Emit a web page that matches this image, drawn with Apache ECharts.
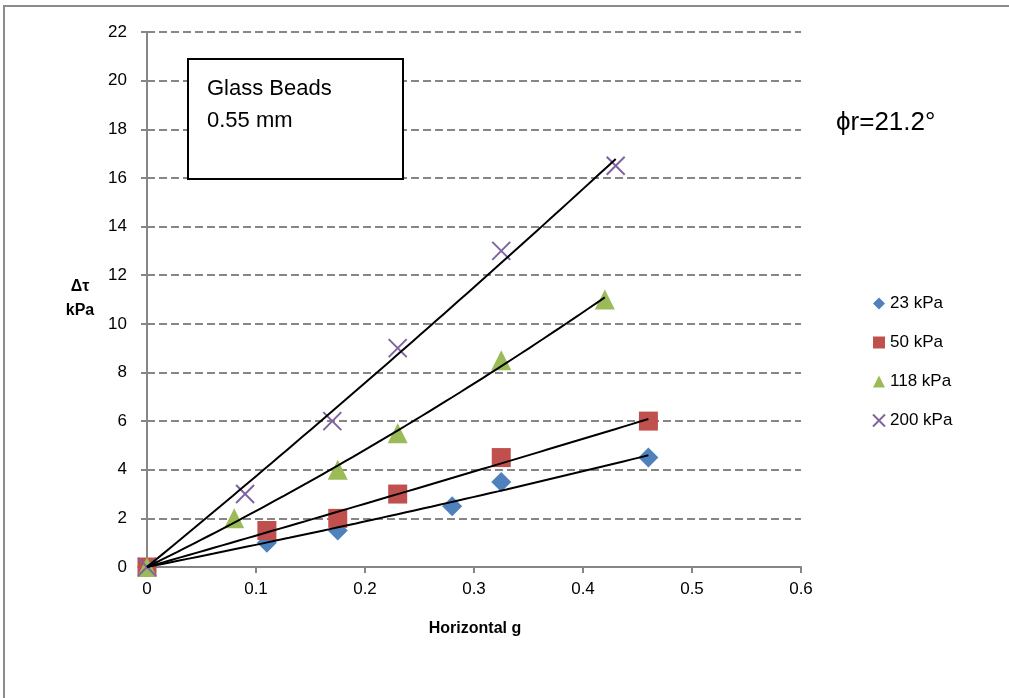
<!DOCTYPE html>
<html>
<head>
<meta charset="utf-8">
<script src="https://cdn.jsdelivr.net/npm/echarts@6/dist/echarts.min.js"></script>
<style>
  html, body { margin: 0; padding: 0; background: #ffffff; }
  #chart { width: 1009px; height: 698px; }
</style>
</head>
<body>
<div id="chart"></div>
<script>
// Shear stress increase vs. horizontal acceleration, glass beads 0.55 mm
const seriesNames = ['23 kPa', '50 kPa', '118 kPa', '200 kPa'];

const gX23 = [0, 0.11, 0.175, 0.28, 0.325, 0.46];
const tau23 = [0, 1.0, 1.5, 2.5, 3.5, 4.5];

const gX50 = [0, 0.11, 0.175, 0.23, 0.325, 0.46];
const tau50 = [0, 1.5, 2.0, 3.0, 4.5, 6.0];

const gX118 = [0, 0.08, 0.175, 0.23, 0.325, 0.42];
const tau118 = [0, 2.0, 4.0, 5.5, 8.5, 11.0];

const gX200 = [0, 0.09, 0.17, 0.23, 0.325, 0.43];
const tau200 = [0, 3.0, 6.0, 9.0, 13.0, 16.5];

const xTicks = [0, 0.1, 0.2, 0.3, 0.4, 0.5, 0.6];
const yTicks = [0, 2, 4, 6, 8, 10, 12, 14, 16, 18, 20, 22];

const colors = ['#4F81BD', '#C0504D', '#9BBB59', '#8064A2'];
const FONT = '"Liberation Sans", Arial, sans-serif';

const groups = [[gX23, tau23], [gX50, tau50], [gX118, tau118], [gX200, tau200]];

// Second-order polynomial trendline forced through the origin: y = a*x + b*x^2
function quadFitOrigin(xs, ys) {
  let s2 = 0, s3 = 0, s4 = 0, sxy = 0, sx2y = 0;
  for (let i = 0; i < xs.length; i++) {
    const x = xs[i], y = ys[i];
    s2 += x * x; s3 += x * x * x; s4 += x * x * x * x;
    sxy += x * y; sx2y += x * x * y;
  }
  const det = s2 * s4 - s3 * s3;
  const a = (sxy * s4 - s3 * sx2y) / det;
  const b = (s2 * sx2y - s3 * sxy) / det;
  return [a, b];
}

function trendPoints(xs, ys) {
  const [a, b] = quadFitOrigin(xs, ys);
  const xMin = Math.min(...xs), xMax = Math.max(...xs);
  const pts = [];
  const n = 60;
  for (let i = 0; i <= n; i++) {
    const x = xMin + (xMax - xMin) * i / n;
    pts.push([x, a * x + b * x * x]);
  }
  return pts;
}

const crossPath = 'path://M0,0L10,10M10,0L0,10';
const symbols = ['diamond', 'rect', 'triangle', crossPath];
const sizes = [20, 19, 20, 18];

const scatterSeries = groups.map((g, i) => ({
  name: seriesNames[i],
  type: 'scatter',
  data: g[0].map((x, k) => [x, g[1][k]]),
  symbol: symbols[i],
  symbolSize: sizes[i],
  itemStyle: i === 3
    ? { color: 'rgba(0,0,0,0)', borderColor: colors[i], borderWidth: 2, opacity: 1 }
    : { color: colors[i], opacity: 1 },
  emphasis: { disabled: true },
  z: 2
}));

const trendSeries = groups.map((g, i) => ({
  name: 'trend' + i,
  type: 'line',
  data: trendPoints(g[0], g[1]),
  showSymbol: false,
  symbol: 'none',
  lineStyle: { color: '#000000', width: 2 },
  silent: true,
  z: 3
}));

const chart = echarts.init(document.getElementById('chart'));
chart.setOption({
  animation: false,
  backgroundColor: '#ffffff',
  grid: { left: 147, top: 32, width: 654, height: 535 },
  xAxis: {
    type: 'value',
    min: xTicks[0],
    max: xTicks[xTicks.length - 1],
    interval: 0.1,
    axisLine: { lineStyle: { color: '#868686', width: 2 } },
    axisTick: { show: true, inside: false, length: 6, lineStyle: { color: '#868686', width: 2 } },
    axisLabel: {
      margin: 14,
      color: '#000000',
      fontFamily: FONT,
      fontSize: 17,
      formatter: v => String(Math.round(v * 10) / 10)
    },
    splitLine: { show: false }
  },
  yAxis: {
    type: 'value',
    min: yTicks[0],
    max: yTicks[yTicks.length - 1],
    interval: 2,
    axisLine: { show: true, lineStyle: { color: '#868686', width: 2 } },
    axisTick: { show: true, inside: false, length: 6, lineStyle: { color: '#868686', width: 2 } },
    axisLabel: { margin: 20, color: '#000000', fontFamily: FONT, fontSize: 17 },
    splitLine: { show: true, lineStyle: { color: '#868686', width: 2, type: [8, 4] } }
  },
  legend: {
    data: seriesNames,
    orient: 'vertical',
    left: 867,
    top: 290,
    itemWidth: 12,
    itemHeight: 12,
    itemGap: 22,
    textStyle: { fontFamily: FONT, fontSize: 17, color: '#000000' }
  },
  graphic: [
    {
      type: 'rect',
      shape: { x: 4, y: 6, width: 1200, height: 900 },
      style: { fill: 'none', stroke: '#8c8c8c', lineWidth: 2 },
      silent: true
    },
    {
      type: 'rect',
      shape: { x: 188, y: 59, width: 215, height: 120 },
      style: { fill: '#ffffff', stroke: '#000000', lineWidth: 2 },
      z: 10
    },
    {
      type: 'text',
      x: 207, y: 78,
      style: { text: 'Glass Beads', font: '22px ' + FONT, fill: '#000000' },
      z: 11
    },
    {
      type: 'text',
      x: 207, y: 110,
      style: { text: '0.55 mm', font: '22px ' + FONT, fill: '#000000' },
      z: 11
    },
    {
      type: 'text',
      x: 836, y: 110,
      style: { text: 'ϕr=21.2°', font: '26px ' + FONT, fill: '#000000' },
      z: 11
    },
    {
      type: 'text',
      x: 80, y: 287,
      style: { text: 'Δτ', font: 'bold 16px ' + FONT, fill: '#000000', align: 'center', verticalAlign: 'middle' }
    },
    {
      type: 'text',
      x: 80, y: 311,
      style: { text: 'kPa', font: 'bold 16px ' + FONT, fill: '#000000', align: 'center', verticalAlign: 'middle' }
    },
    {
      type: 'text',
      x: 475, y: 629,
      style: { text: 'Horizontal g', font: 'bold 16px ' + FONT, fill: '#000000', align: 'center', verticalAlign: 'middle' }
    }
  ],
  series: scatterSeries.concat(trendSeries)
});
</script>
</body>
</html>
